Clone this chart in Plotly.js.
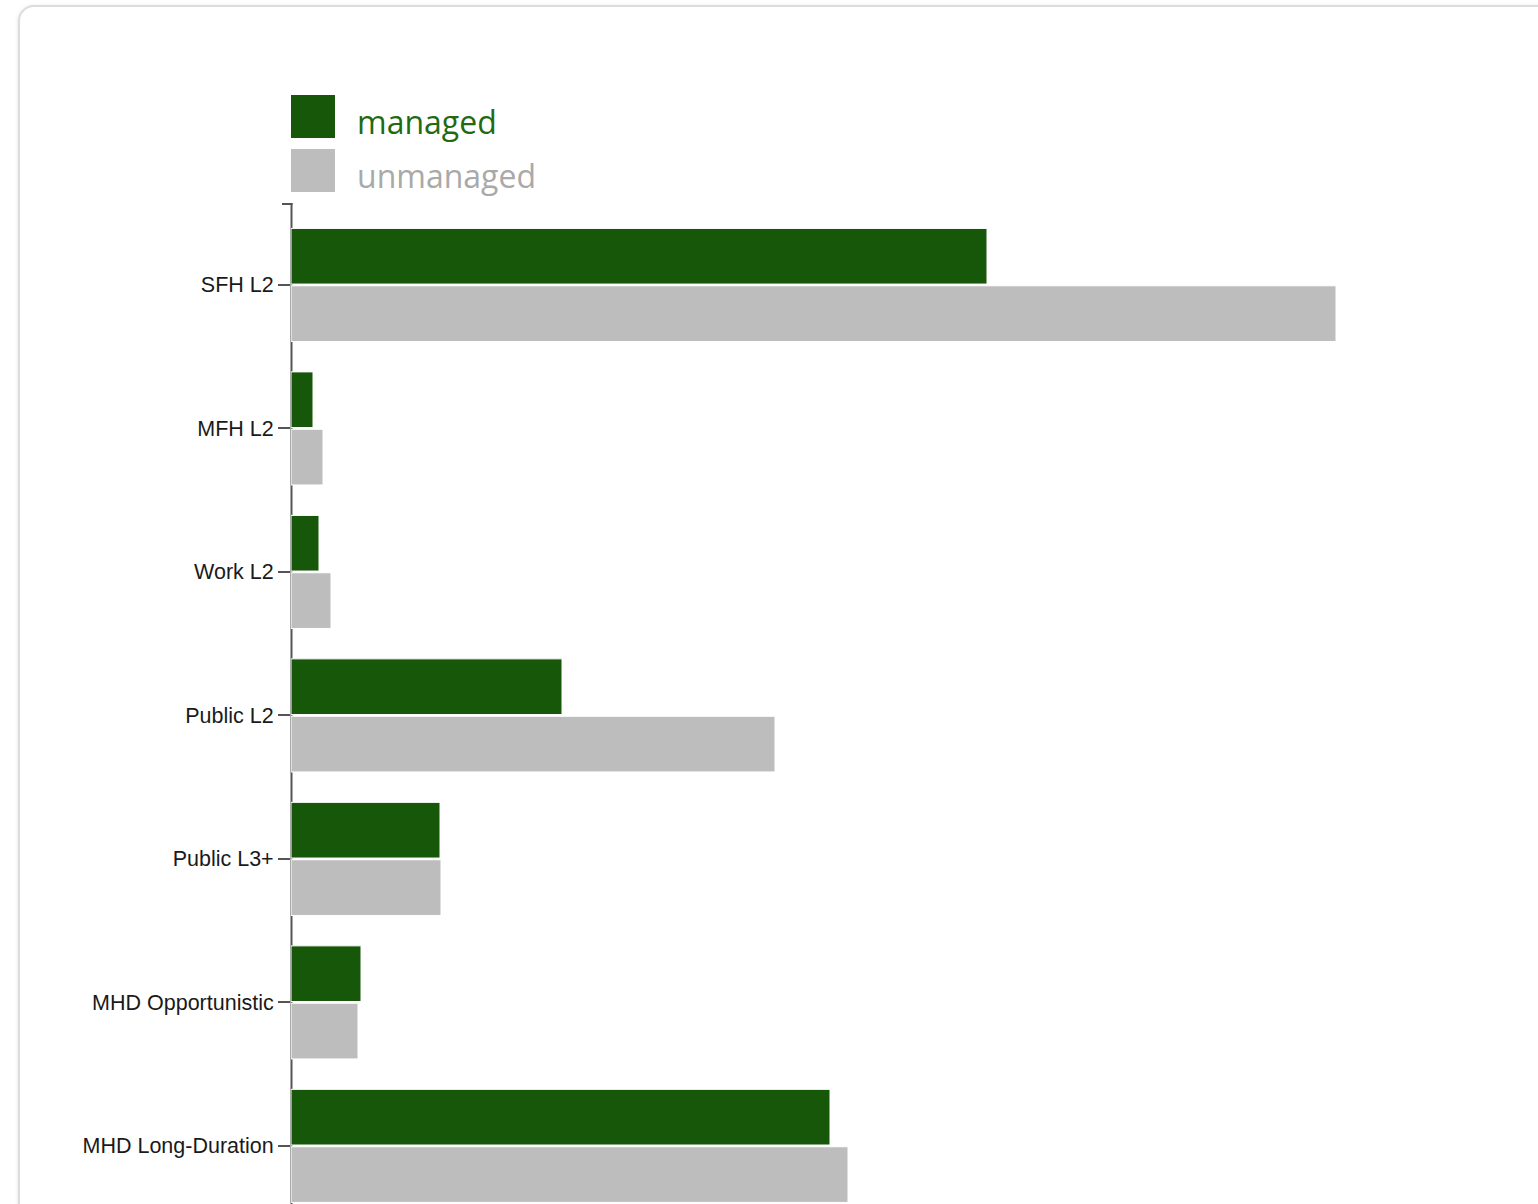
<!DOCTYPE html>
<html>
<head>
<meta charset="utf-8">
<script src="https://cdn.plot.ly/plotly-3.0.1.min.js"></script>
<style>
  html, body { margin:0; padding:0; background:#fff; width:1538px; height:1204px; overflow:hidden; }
  #card { position:absolute; left:18px; top:5px; width:1620px; height:1400px; border:2px solid #dcdcdc; border-radius:16px; box-shadow:0 1px 4px rgba(0,0,0,0.12); background:#fff; }
  #chart { position:absolute; left:0; top:0; width:1538px; height:1204px; }
</style>
</head>
<body>
<div id="card"></div>
<div id="chart"></div>
<script>
// Data (bar lengths; arbitrary units)
const categories = ["SFH L2", "MFH L2", "Work L2", "Public L2", "Public L3+", "MHD Opportunistic", "MHD Long-Duration"];
const seriesNames = ["managed", "unmanaged"];
const managed   = [696, 22, 28, 271, 149, 70, 539];
const unmanaged = [1045, 32, 40, 484, 150, 67, 557];

const colors = ["#17570a", "#bdbdbd"];
const legendTextColors = ["#1f6a12", "#a9a9a9"];

const W = 1538, H = 1204;
const M = { l: 291, r: 202, t: 203, b: 0 };
const pw = W - M.l - M.r, ph = H - M.t - M.b;
const px = x => (x - M.l) / pw;
const py = y => (H - M.b - y) / ph;

const traces = [managed, unmanaged].map((vals, i) => ({
  type: "bar",
  orientation: "h",
  name: seriesNames[i],
  y: categories,
  x: vals,
  marker: { color: colors[i], line: { color: "#ffffff", width: 1 } },
  hoverinfo: "x+y",
  showlegend: false
}));

const shapes = [
  // axis domain line (drawn under the bars) and its top end-tick
  { type: "line", layer: "below", xref: "paper", yref: "paper", x0: px(291.5), x1: px(291.5), y0: 0, y1: py(203), line: { color: "#555", width: 2 } },
  { type: "line", layer: "below", xref: "paper", yref: "paper", x0: px(282), x1: px(292.5), y0: py(204), y1: py(204), line: { color: "#555", width: 2 } }
];
const annotations = [];
seriesNames.forEach((n, i) => {
  const top = 95 + i * 54;
  shapes.push({ type: "rect", xref: "paper", yref: "paper", x0: px(291), x1: px(335), y0: py(top + 43), y1: py(top), fillcolor: colors[i], line: { width: 0 } });
  annotations.push({ xref: "paper", yref: "paper", x: px(355), y: py(top + 27), xanchor: "left", yanchor: "middle", text: n, showarrow: false, font: { family: "Open Sans, Noto Sans, sans-serif", size: 32, color: legendTextColors[i] } });
});

const layout = {
  width: W, height: H,
  margin: M,
  paper_bgcolor: "rgba(0,0,0,0)",
  plot_bgcolor: "rgba(0,0,0,0)",
  barmode: "group",
  bargap: 0.2,
  bargroupgap: 0.03,
  showlegend: false,
  xaxis: { range: [0, 1045], visible: false, fixedrange: true },
  yaxis: {
    type: "category",
    range: [6.405, -0.571],
    showline: false,
    ticks: "outside", ticklen: 12, tickwidth: 2, tickcolor: "#555",
    showgrid: false, zeroline: false,
    layer: "below traces",
    tickfont: { family: "Liberation Sans, Arial, sans-serif", size: 21.5, color: "#1a1a1a" },
    ticklabelstandoff: 0,
    fixedrange: true
  },
  shapes: shapes,
  annotations: annotations
};

Plotly.newPlot("chart", traces, layout, { displayModeBar: false, staticPlot: true });
</script>
</body>
</html>
